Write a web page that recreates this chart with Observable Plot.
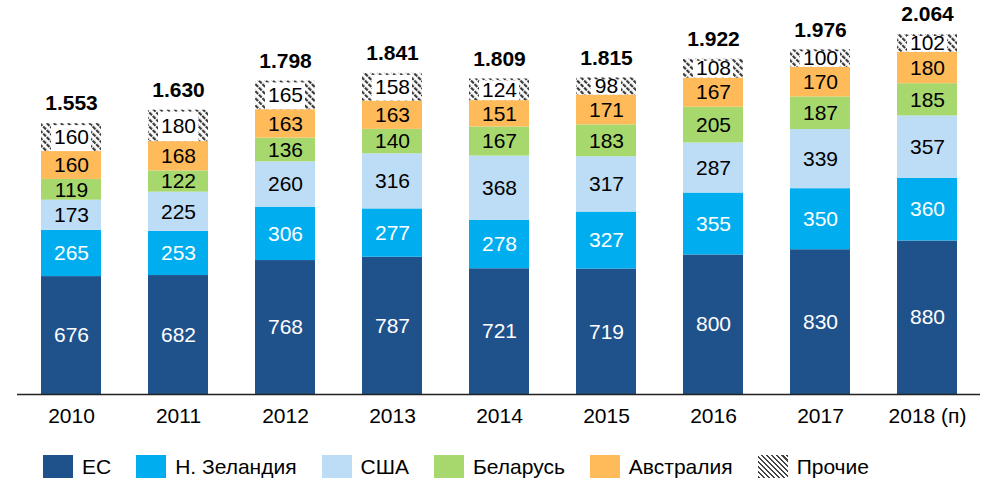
<!DOCTYPE html>
<html>
<head>
<meta charset="utf-8">
<script src="https://cdn.jsdelivr.net/npm/d3@7"></script>
<script src="https://cdn.jsdelivr.net/npm/@observablehq/plot@0.6"></script>
<style>
  body { margin: 0; background: #fff; font-family: "Liberation Sans", Arial, sans-serif; }
  #legend { display: flex; align-items: center; height: 42px; padding-left: 43px; box-sizing: border-box; padding-top: 11px; font-size: 21px; color: #000; }
  .item { display: flex; align-items: center; margin-right: 25px; }
  .sw { width: 30px; height: 23px; margin-right: 9px; }
</style>
</head>
<body>
<div id="chart"></div>
<div id="legend"></div>
<script>
const years = ["2010", "2011", "2012", "2013", "2014", "2015", "2016", "2017", "2018 (п)"];
const seriesNames = ["ЕС", "Н. Зеландия", "США", "Беларусь", "Австралия", "Прочие"];
const colors = ["#1f518b", "#00aeef", "#bddcf5", "#a6d86e", "#ffba5a", "url(#hatch)"];
const eu        = [676, 682, 768, 787, 721, 719, 800, 830, 880];
const nz        = [265, 253, 306, 277, 278, 327, 355, 350, 360];
const usa       = [173, 225, 260, 316, 368, 317, 287, 339, 357];
const belarus   = [119, 122, 136, 140, 167, 183, 205, 187, 185];
const australia = [160, 168, 163, 163, 151, 171, 167, 170, 180];
const other     = [160, 180, 165, 158, 124, 98, 108, 100, 102];
const totalLabels = ["1.553", "1.630", "1.798", "1.841", "1.809", "1.815", "1.922", "1.976", "2.064"];

const seriesValues = [eu, nz, usa, belarus, australia, other];
const long = [];
const totals = [];
years.forEach((yr, i) => {
  let base = 0;
  seriesValues.forEach((vals, s) => {
    long.push({year: yr, series: seriesNames[s], value: vals[i], y1: base, y2: base + vals[i]});
    base += vals[i];
  });
  totals.push({year: yr, total: base, label: totalLabels[i]});
});
const whiteText = new Set(["ЕС", "Н. Зеландия"]);
const isOther = d => d.series === "Прочие";

const plot = Plot.plot({
  width: 986,
  height: 440,
  marginTop: 34,
  marginBottom: 46,
  marginLeft: 17,
  marginRight: 6,
  style: {fontFamily: "'Liberation Sans', Arial, sans-serif", background: "#fff"},
  x: {type: "band", domain: years, paddingInner: 0.44, paddingOuter: 0.22, label: null},
  y: {domain: [0, 2064], axis: null},
  color: {type: "ordinal", domain: seriesNames, range: colors},
  marks: [
    Plot.barY(long, {x: "year", y1: "y1", y2: "y2", fill: "series"}),
    Plot.barY(long, {filter: d => isOther(d) && d.value >= 100, x: "year", y1: "y1", y2: "y2", fill: "white", insetLeft: 10, insetRight: 10, insetTop: 2}),
    Plot.barY(long, {filter: d => isOther(d) && d.value < 100, x: "year", y1: "y1", y2: "y2", fill: "white", insetLeft: 15, insetRight: 15, insetTop: 2}),
    Plot.text(long, {filter: d => whiteText.has(d.series), x: "year", y: d => (d.y1 + d.y2) / 2, text: d => String(d.value), fill: "white", fontSize: 21}),
    Plot.text(long, {filter: d => !whiteText.has(d.series), x: "year", y: d => (d.y1 + d.y2) / 2, text: d => String(d.value), fill: "black", fontSize: 21}),
    Plot.text(totals, {x: "year", y: "total", text: "label", dy: -20, fontSize: 21, fontWeight: "bold", fill: "black"}),
    Plot.ruleY([0], {stroke: "#222", strokeWidth: 1.5}),
    Plot.axisX({tickSize: 0, tickPadding: 14, fontSize: 21, label: null, fill: "black"})
  ]
});

const svg = d3.select(plot);
const defs = svg.insert("defs", ":first-child");
const pat = defs.append("pattern")
  .attr("id", "hatch").attr("patternUnits", "userSpaceOnUse")
  .attr("width", 5).attr("height", 5)
  .attr("patternTransform", "rotate(-45)");
pat.append("rect").attr("width", 5).attr("height", 5).attr("fill", "white");
pat.append("rect").attr("width", 2.2).attr("height", 4).attr("fill", "#3a3a3a");

document.getElementById("chart").appendChild(plot);

const legend = d3.select("#legend");
seriesNames.forEach((name, i) => {
  const item = legend.append("div").attr("class", "item");
  const sw = item.append("div").attr("class", "sw");
  if (colors[i].startsWith("url")) {
    sw.style("background", "repeating-linear-gradient(45deg, #444 0 1.6px, #fff 1.6px 3.6px)");
  } else {
    sw.style("background", colors[i]);
  }
  item.append("span").text(name);
});
</script>
</body>
</html>
